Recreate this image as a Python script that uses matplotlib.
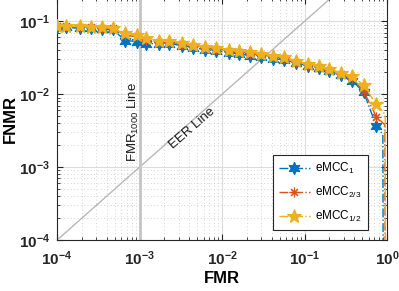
import numpy as np
import matplotlib
matplotlib.use('Agg')
import matplotlib.pyplot as plt

plt.rcParams['font.family'] = ['Liberation Sans', 'DejaVu Sans']
plt.rcParams['mathtext.fontset'] = 'custom'
plt.rcParams['mathtext.rm'] = 'Liberation Sans'
plt.rcParams['mathtext.it'] = 'Liberation Sans:italic'
plt.rcParams['mathtext.bf'] = 'Liberation Sans:bold'

# FMR values (markers), plus tail points near FMR=1
fmr = [1.0e-4, 1.3e-4, 1.9e-4, 2.6e-4, 3.5e-4, 4.8e-4, 6.6e-4, 9.3e-4,
       1.2e-3, 1.7e-3, 2.3e-3, 3.3e-3, 4.5e-3, 6.2e-3, 8.5e-3, 1.2e-2,
       1.6e-2, 2.2e-2, 3.0e-2, 4.2e-2, 5.6e-2, 7.9e-2, 0.11, 0.15, 0.20,
       0.28, 0.38, 0.52, 0.74]

fnmr_1 = [0.0826, 0.0826, 0.0800, 0.0800, 0.0774, 0.0774, 0.0545, 0.0528,
          0.0495, 0.0495, 0.0495, 0.0464, 0.0436, 0.0409, 0.0396, 0.0371,
          0.0359, 0.0337, 0.0327, 0.0306, 0.0297, 0.0270, 0.0245, 0.0230,
          0.0209, 0.0184, 0.0152, 0.0107, 0.00371]
fnmr_23 = [0.0853, 0.0853, 0.0826, 0.0826, 0.0800, 0.0800, 0.0639, 0.0619,
           0.0562, 0.0528, 0.0511, 0.0495, 0.0464, 0.0436, 0.0422, 0.0396,
           0.0383, 0.0359, 0.0348, 0.0327, 0.0316, 0.0278, 0.0253, 0.0237,
           0.0215, 0.0190, 0.0167, 0.0110, 0.00495]
fnmr_12 = [0.0853, 0.0853, 0.0853, 0.0826, 0.0826, 0.0800, 0.0681, 0.0659,
           0.0599, 0.0545, 0.0545, 0.0511, 0.0479, 0.0450, 0.0436, 0.0409,
           0.0396, 0.0383, 0.0359, 0.0337, 0.0327, 0.0287, 0.0261, 0.0245,
           0.0222, 0.0196, 0.0178, 0.0133, 0.00726]

tail_1 = ([0.89, 0.90], [2.8e-3, 1e-5])
tail_23 = ([0.94, 0.95], [3.8e-3, 1e-5])
tail_12 = ([0.95, 0.96], [5.3e-3, 1e-5])

series = [
    ('eMCC$_{1}$', fnmr_1, tail_1, '#0072BD', (6, 1, 0), 9),
    ('eMCC$_{2/3}$', fnmr_23, tail_23, '#D95319', (8, 2, 0), 7),
    ('eMCC$_{1/2}$', fnmr_12, tail_12, '#EDB120', '*', 10),
]

fig = plt.figure(figsize=(3.99, 2.91), dpi=100)
ax = fig.add_axes([0.143, 0.175, 0.827, 0.832])

gray = '#262626'

# reference lines
ax.plot([1e-4, 1], [1e-4, 1], color='#b8b8b8', lw=1.0, zorder=1)
ax.axvline(1e-3, color='#c4c4c4', lw=2.0, zorder=1)

for label, y, tail, color, marker, ms in series:
    x = fmr + tail[0]
    yy = y + tail[1]
    ax.plot(x, yy, linestyle='-.', color=color, lw=1.0, marker=marker,
            markersize=ms, markevery=list(range(len(fmr))),
            markerfacecolor=color, markeredgecolor=color,
            markeredgewidth=0.8, label=label, zorder=3)

ax.set_xscale('log')
ax.set_yscale('log')
ax.set_xlim(1e-4, 1)
ax.set_ylim(1e-4, 0.209)

xt = [1e-4, 1e-3, 1e-2, 1e-1, 1]
ax.set_xticks(xt)
ax.set_xticklabels([r'$\mathbf{10^{-4}}$', r'$\mathbf{10^{-3}}$',
                    r'$\mathbf{10^{-2}}$', r'$\mathbf{10^{-1}}$',
                    r'$\mathbf{10^{0}}$'], fontsize=11)
yt = [1e-4, 1e-3, 1e-2, 1e-1]
ax.set_yticks(yt)
ax.set_yticklabels([r'$\mathbf{10^{-4}}$', r'$\mathbf{10^{-3}}$',
                    r'$\mathbf{10^{-2}}$', r'$\mathbf{10^{-1}}$'], fontsize=11)

ax.tick_params(which='both', direction='in', colors=gray, top=True, right=True)
ax.tick_params(which='major', length=4, pad=5)
ax.tick_params(axis='x', which='major', pad=7)
ax.tick_params(which='minor', length=2)
for s in ax.spines.values():
    s.set_color(gray)
    s.set_linewidth(0.8)

ax.grid(True, which='major', color='#dcdcdc', lw=0.8)
ax.grid(True, which='minor', color='#c8c8c8', lw=0.6, linestyle=(0, (1, 3)))
ax.set_axisbelow(True)

ax.set_xlabel('FMR', fontsize=12, fontweight='bold', labelpad=2)
ax.set_ylabel('FNMR', fontsize=12, fontweight='bold', labelpad=1)

ax.text(8.5e-4, 10**-2.375, 'FMR$_{1000}$ Line', rotation=90,
        ha='center', va='center', fontsize=9.5, color='#1a1a1a')
ax.text(4.3e-3, 3.4e-3, 'EER Line', rotation=41,
        ha='center', va='center', fontsize=9.5, color='#1a1a1a')

leg = ax.legend(loc='lower right', bbox_to_anchor=(0.942, 0.041),
                fontsize=8.5, frameon=True, fancybox=False,
                framealpha=1, edgecolor=gray, borderaxespad=0,
                borderpad=0.5, handlelength=2.6, handletextpad=0.5,
                labelspacing=0.75)
leg.get_frame().set_linewidth(0.8)

fig.savefig('out.png', dpi=100)
